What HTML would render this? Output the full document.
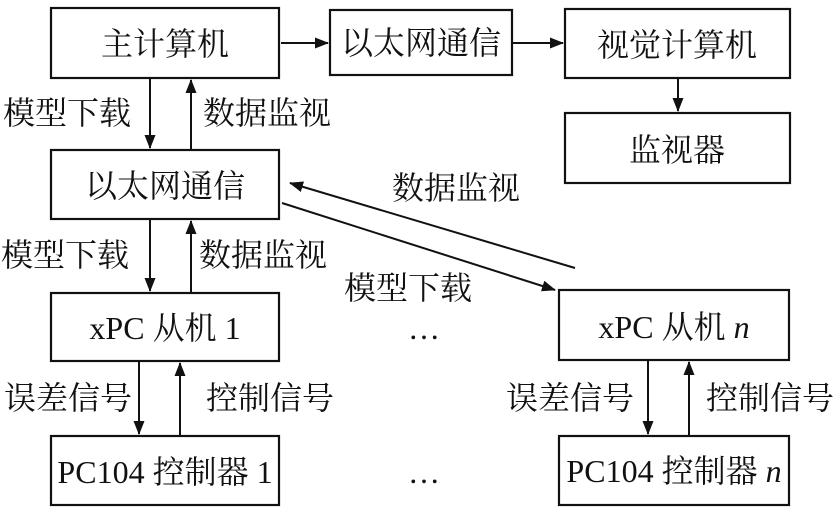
<!DOCTYPE html>
<html><head><meta charset="utf-8"><style>
body{margin:0;background:#fff}
svg text{font-family:"Liberation Serif","Noto Serif CJK SC",serif;font-size:32px;fill:#111}
</style></head><body>
<svg width="839" height="520" viewBox="0 0 839 520" xmlns="http://www.w3.org/2000/svg">
<defs><marker id="b" markerWidth="14" markerHeight="12" refX="13" refY="6" orient="auto" markerUnits="userSpaceOnUse"><path d="M0,0.5 L14,6 L0,11.5 z" fill="#111"/></marker></defs>
<g fill="none" stroke="#111" stroke-width="2.2">
<rect x="51" y="8" width="228" height="70"/>
<rect x="330" y="10" width="182" height="65"/>
<rect x="565" y="9" width="225" height="69"/>
<rect x="565" y="113" width="225" height="70"/>
<rect x="51" y="150" width="228" height="69"/>
<rect x="51" y="293" width="228" height="68"/>
<rect x="51" y="436" width="228" height="69"/>
<rect x="559" y="290" width="230" height="70"/>
<rect x="559" y="436" width="230" height="69"/>
</g>
<g stroke="#111" stroke-width="2" marker-end="url(#b)">
<line x1="281" y1="43" x2="328" y2="43"/>
<line x1="513" y1="43" x2="563" y2="43"/>
<line x1="678" y1="79" x2="678" y2="111"/>
<line x1="150" y1="79" x2="150" y2="148"/>
<line x1="191" y1="149" x2="191" y2="80"/>
<line x1="150" y1="220" x2="150" y2="291"/>
<line x1="191" y1="292" x2="191" y2="221"/>
<line x1="139" y1="362" x2="139" y2="434"/>
<line x1="180" y1="435" x2="180" y2="363"/>
<line x1="648" y1="361" x2="648" y2="434"/>
<line x1="689" y1="435" x2="689" y2="362"/>
<line x1="282" y1="203" x2="555" y2="290"/>
<line x1="575" y1="268" x2="290" y2="183"/>
</g>
<text x="165" y="55" text-anchor="middle">主计算机</text>
<text x="421" y="54" text-anchor="middle">以太网通信</text>
<text x="677" y="56" text-anchor="middle">视觉计算机</text>
<text x="677" y="161" text-anchor="middle">监视器</text>
<text x="165" y="197" text-anchor="middle">以太网通信</text>
<text x="165" y="339" text-anchor="middle">xPC 从机 1</text>
<text x="165" y="483" text-anchor="middle">PC104 控制器 1</text>
<text x="674" y="338" text-anchor="middle">xPC 从机 <tspan font-style="italic">n</tspan></text>
<text x="674" y="482" text-anchor="middle">PC104 控制器 <tspan font-style="italic">n</tspan></text>
<text x="3" y="124">模型下载</text>
<text x="203" y="124">数据监视</text>
<text x="1" y="266">模型下载</text>
<text x="199" y="266">数据监视</text>
<text x="392" y="199">数据监视</text>
<text x="344" y="299">模型下载</text>
<text x="4" y="409">误差信号</text>
<text x="206" y="409">控制信号</text>
<text x="506" y="409">误差信号</text>
<text x="706" y="409">控制信号</text>
<text x="408" y="339">…</text>
<text x="408" y="483">…</text>
</svg>
</body></html>
